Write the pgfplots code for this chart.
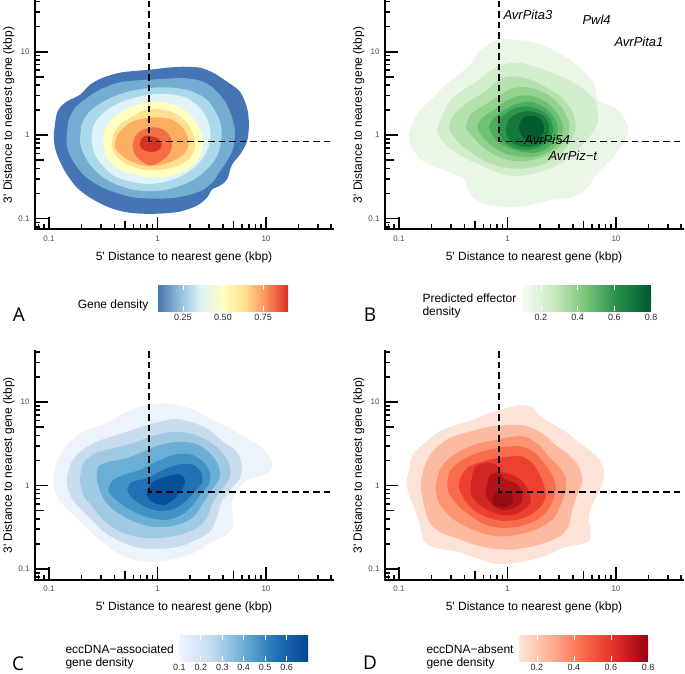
\documentclass[border=0pt]{standalone}
\usepackage{fontspec}
\setmainfont{Liberation Sans}
\newfontfamily\letterfont{Open Sans}
\usepackage{pgfplots}
\pgfplotsset{compat=1.18}

% contour fills, outermost level first
\definecolor{a1}{HTML}{4575B4}\definecolor{a2}{HTML}{74ADD1}\definecolor{a3}{HTML}{ABD9E9}
\definecolor{a4}{HTML}{E0F3F8}\definecolor{a5}{HTML}{FFFFBF}\definecolor{a6}{HTML}{FEE090}
\definecolor{a7}{HTML}{FDAE61}\definecolor{a8}{HTML}{F46D43}\definecolor{a9}{HTML}{D73027}
\definecolor{b1}{HTML}{EAF6E6}\definecolor{b2}{HTML}{D2EDCC}\definecolor{b3}{HTML}{B5E1AE}
\definecolor{b4}{HTML}{94D18E}\definecolor{b5}{HTML}{6FC173}\definecolor{b6}{HTML}{4BAD5F}
\definecolor{b7}{HTML}{2E954D}\definecolor{b8}{HTML}{15793C}\definecolor{b9}{HTML}{005C30}
\definecolor{c1}{HTML}{EDF3FB}\definecolor{c2}{HTML}{C9DCEF}\definecolor{c3}{HTML}{9FCAE1}
\definecolor{c4}{HTML}{6BAED6}\definecolor{c5}{HTML}{4292C6}\definecolor{c6}{HTML}{2171B5}
\definecolor{c7}{HTML}{08509C}
\definecolor{d1}{HTML}{FDE3D7}\definecolor{d2}{HTML}{FCBBA1}\definecolor{d3}{HTML}{FC9474}
\definecolor{d4}{HTML}{F96C4B}\definecolor{d5}{HTML}{EE4030}\definecolor{d6}{HTML}{D12622}
\definecolor{d7}{HTML}{B3141A}\definecolor{d8}{HTML}{970C12}

% colour bar gradients (25bp..75bp is the visible part)
\definecolor{ka1}{RGB}{69,117,180}\definecolor{ka2}{RGB}{145,191,219}\definecolor{ka3}{RGB}{224,243,248}
\definecolor{ka4}{RGB}{255,255,191}\definecolor{ka5}{RGB}{254,224,144}\definecolor{ka6}{RGB}{252,141,89}
\definecolor{ka7}{RGB}{215,48,39}
\definecolor{kb1}{RGB}{247,252,245}\definecolor{kb2}{RGB}{199,233,192}\definecolor{kb3}{RGB}{116,196,118}
\definecolor{kb4}{RGB}{35,139,69}\definecolor{kb5}{RGB}{0,90,50}
\definecolor{kc1}{RGB}{239,243,255}\definecolor{kc2}{RGB}{198,219,239}\definecolor{kc3}{RGB}{107,174,214}
\definecolor{kc4}{RGB}{33,113,181}\definecolor{kc5}{RGB}{8,69,148}
\definecolor{kd1}{RGB}{254,229,217}\definecolor{kd2}{RGB}{252,174,145}\definecolor{kd3}{RGB}{251,106,74}
\definecolor{kd4}{RGB}{222,45,38}\definecolor{kd5}{RGB}{153,0,13}
\pgfdeclarehorizontalshading{cbA}{100bp}{color(0bp)=(ka1); color(25bp)=(ka1); color(33.333bp)=(ka2); color(41.667bp)=(ka3); color(50bp)=(ka4); color(58.333bp)=(ka5); color(66.667bp)=(ka6); color(75bp)=(ka7); color(100bp)=(ka7)}
\pgfdeclarehorizontalshading{cbB}{100bp}{color(0bp)=(kb1); color(25bp)=(kb1); color(37.5bp)=(kb2); color(50bp)=(kb3); color(62.5bp)=(kb4); color(75bp)=(kb5); color(100bp)=(kb5)}
\pgfdeclarehorizontalshading{cbC}{100bp}{color(0bp)=(kc1); color(25bp)=(kc1); color(37.5bp)=(kc2); color(50bp)=(kc3); color(62.5bp)=(kc4); color(75bp)=(kc5); color(100bp)=(kc5)}
\pgfdeclarehorizontalshading{cbD}{100bp}{color(0bp)=(kd1); color(25bp)=(kd1); color(37.5bp)=(kd2); color(50bp)=(kd3); color(62.5bp)=(kd4); color(75bp)=(kd5); color(100bp)=(kd5)}

% log ticks inside the axis (as annotation_logticks), and the two axis lines
\tikzset{tk/.style={black, line width=1.6pt}}
\newcommand{\logframe}{%
  \draw[black, line width=2.2pt, line cap=rect] (axis cs:-1.129,1.61) -- (axis cs:-1.129,-1.128) -- (axis cs:1.618,-1.128);
  \pgfplotsinvokeforeach{-1,0,1}{%
    \draw[tk] (axis cs:##1,-1.128) -- ++(0pt,12.5pt);
    \draw[tk] (axis cs:-1.129,##1) -- ++(12.5pt,0pt);}
  \pgfplotsinvokeforeach{-0.301,0.699}{%
    \draw[tk] (axis cs:##1,-1.128) -- ++(0pt,8.5pt);
    \draw[tk] (axis cs:-1.129,##1) -- ++(8.5pt,0pt);}
  \pgfplotsinvokeforeach{-1.097,-1.046,-0.699,-0.523,-0.398,-0.222,-0.155,-0.097,-0.046,0.301,0.477,0.602,0.778,0.845,0.903,0.954,1.301,1.477,1.602}{%
    \draw[tk] (axis cs:##1,-1.128) -- ++(0pt,5pt);
    \draw[tk] (axis cs:-1.129,##1) -- ++(5pt,0pt);}
}

\pgfplotsset{
  dens/.style={
    scale only axis, width=298pt, height=228.5pt, anchor=south west,
    xmin=-1.129, xmax=1.618, ymin=-1.128, ymax=1.61,
    axis x line*=bottom, axis y line*=left, clip=false,
    x axis line style={draw=none}, y axis line style={draw=none},
    xtick pos=left, ytick pos=left, tick align=inside,
    major tick length=0pt, minor tick length=0pt,
    xtick={-1,0,1}, xticklabels={0.1,1,10},
    ytick={-1,0,1}, yticklabels={0.1,1,10},
    ticklabel style={font=\fontsize{8}{9}\selectfont, text=black!70},
    xticklabel style={yshift=-3pt}, yticklabel style={xshift=-2pt},
    xlabel={5\textquotesingle{} Distance to nearest gene (kbp)},
    ylabel={3\textquotesingle{} Distance to nearest gene (kbp)},
    label style={font=\fontsize{12}{14}\selectfont},
    xlabel shift=3pt, ylabel shift=-3pt,
  },
  cbar/.style={
    scale only axis, width=129pt, height=26pt, anchor=north west,
    ymin=0, ymax=1, axis line style={draw=none}, ytick=\empty,
    tick align=inside, xtick pos=both, xticklabel pos=lower,
    major tick length=5pt, xtick style={white, line width=0.8pt},
    axis on top, clip=false,
    xticklabel style={font=\fontsize{9}{10}\selectfont, text=black!85},
  },
  lv/.style={draw=none, fill=#1, smooth},
  dashln/.style={black, line width=1.6pt, dash pattern=on 6.5pt off 4pt},
}

\begin{document}
\begin{tikzpicture}
\path[use as bounding box] (0pt,0pt) rectangle (685pt,-674pt);

% ---------- A ----------
\begin{axis}[dens, at={(35pt,-229.3pt)}]
\addplot[lv=a1] coordinates {(-0.954,0.030)(-0.926,0.269)(-0.853,0.389)(-0.714,0.485)(-0.622,0.605)(-0.502,0.689)(-0.346,0.749)(-0.189,0.772)(-0.069,0.784)(0.088,0.808)(0.235,0.820)(0.392,0.808)(0.512,0.749)(0.641,0.641)(0.760,0.521)(0.825,0.329)(0.843,0.126)(0.825,-0.078)(0.760,-0.234)(0.687,-0.353)(0.641,-0.533)(0.576,-0.605)(0.502,-0.653)(0.456,-0.749)(0.364,-0.844)(0.207,-0.916)(0.023,-0.940)(-0.161,-0.940)(-0.318,-0.916)(-0.465,-0.856)(-0.622,-0.749)(-0.742,-0.629)(-0.834,-0.473)(-0.899,-0.317)(-0.945,-0.150)(-0.954,0.030)(-0.926,0.269)};
\addplot[lv=a2] coordinates {(-0.837,-0.074)(-0.822,0.165)(-0.760,0.326)(-0.653,0.445)(-0.530,0.545)(-0.376,0.625)(-0.223,0.653)(-0.069,0.665)(0.085,0.677)(0.238,0.685)(0.392,0.653)(0.514,0.565)(0.622,0.405)(0.684,0.225)(0.714,0.046)(0.699,-0.154)(0.638,-0.314)(0.576,-0.433)(0.514,-0.553)(0.422,-0.653)(0.300,-0.713)(0.146,-0.752)(-0.039,-0.760)(-0.223,-0.745)(-0.376,-0.692)(-0.530,-0.613)(-0.684,-0.473)(-0.776,-0.314)(-0.822,-0.194)(-0.837,-0.074)(-0.822,0.165)};
\addplot[lv=a3] coordinates {(-0.714,-0.074)(-0.699,0.126)(-0.638,0.266)(-0.546,0.365)(-0.422,0.453)(-0.284,0.517)(-0.131,0.557)(0.023,0.573)(0.177,0.565)(0.315,0.525)(0.438,0.445)(0.514,0.326)(0.576,0.165)(0.592,0.006)(0.576,-0.154)(0.530,-0.293)(0.453,-0.413)(0.361,-0.513)(0.238,-0.593)(0.085,-0.653)(-0.069,-0.673)(-0.223,-0.653)(-0.376,-0.593)(-0.514,-0.493)(-0.622,-0.353)(-0.684,-0.213)(-0.714,-0.074)(-0.699,0.126)};
\addplot[lv=a4] coordinates {(-0.607,-0.074)(-0.592,0.105)(-0.530,0.225)(-0.438,0.326)(-0.315,0.405)(-0.161,0.465)(-0.007,0.493)(0.146,0.485)(0.269,0.445)(0.376,0.345)(0.453,0.206)(0.490,0.026)(0.468,-0.154)(0.407,-0.293)(0.315,-0.413)(0.192,-0.505)(0.053,-0.565)(-0.100,-0.585)(-0.253,-0.553)(-0.392,-0.493)(-0.500,-0.373)(-0.576,-0.234)(-0.607,-0.074)(-0.592,0.105)};
\addplot[lv=a5] coordinates {(-0.500,-0.094)(-0.484,0.066)(-0.422,0.186)(-0.330,0.285)(-0.207,0.357)(-0.069,0.397)(0.069,0.397)(0.192,0.345)(0.300,0.246)(0.376,0.105)(0.422,-0.054)(0.407,-0.213)(0.346,-0.333)(0.238,-0.433)(0.100,-0.493)(-0.053,-0.505)(-0.207,-0.473)(-0.346,-0.413)(-0.438,-0.314)(-0.484,-0.213)(-0.500,-0.094)(-0.484,0.066)};
\addplot[lv=a6] coordinates {(-0.422,-0.134)(-0.407,0.006)(-0.346,0.126)(-0.253,0.206)(-0.146,0.285)(-0.023,0.313)(0.100,0.293)(0.207,0.225)(0.284,0.126)(0.336,-0.014)(0.346,-0.154)(0.300,-0.273)(0.207,-0.353)(0.085,-0.405)(-0.053,-0.421)(-0.192,-0.393)(-0.300,-0.333)(-0.376,-0.254)(-0.422,-0.134)(-0.407,0.006)};
\addplot[lv=a7] coordinates {(-0.392,-0.154)(-0.376,-0.014)(-0.315,0.086)(-0.223,0.165)(-0.100,0.206)(0.023,0.213)(0.131,0.186)(0.223,0.105)(0.275,-0.014)(0.284,-0.134)(0.238,-0.234)(0.146,-0.305)(0.039,-0.353)(-0.085,-0.373)(-0.207,-0.333)(-0.300,-0.273)(-0.392,-0.154)(-0.376,-0.014)};
\addplot[lv=a8] coordinates {(-0.229,-0.134)(-0.207,-0.014)(-0.131,0.066)(-0.023,0.094)(0.069,0.054)(0.122,-0.034)(0.131,-0.154)(0.085,-0.254)(0.007,-0.333)(-0.069,-0.361)(-0.146,-0.314)(-0.207,-0.234)(-0.229,-0.134)(-0.207,-0.014)};
\addplot[lv=a9] coordinates {(-0.161,-0.094)(-0.146,-0.034)(-0.100,-0.006)(-0.039,-0.018)(0.017,-0.054)(0.039,-0.122)(0.007,-0.182)(-0.053,-0.202)(-0.115,-0.186)(-0.155,-0.146)(-0.161,-0.094)(-0.146,-0.034)};
\addplot[dashln] coordinates {(-0.076,1.61)(-0.076,-0.076)(1.618,-0.076)};
\logframe
\end{axis}

% ---------- B ----------
\begin{axis}[dens, at={(385pt,-229.3pt)}]
\addplot[lv=b1] coordinates {(-0.908,0.030)(-0.825,0.269)(-0.705,0.425)(-0.548,0.629)(-0.364,0.820)(-0.244,1.024)(-0.088,1.144)(0.060,1.144)(0.217,1.120)(0.336,1.072)(0.45,1.0)(0.613,0.868)(0.797,0.629)(0.834,0.425)(1.018,0.305)(1.111,0.102)(1.074,-0.090)(0.954,-0.293)(0.834,-0.449)(0.742,-0.617)(0.613,-0.737)(0.429,-0.772)(0.309,-0.808)(0.124,-0.856)(-0.060,-0.856)(-0.244,-0.808)(-0.355,-0.689)(-0.401,-0.533)(-0.521,-0.449)(-0.677,-0.377)(-0.797,-0.293)(-0.889,-0.138)(-0.908,0.030)(-0.825,0.269)};
\addplot[lv=b2] coordinates {(-0.643,0.106)(-0.521,0.425)(-0.306,0.625)(-0.090,0.824)(0.124,0.865)(0.370,0.764)(0.616,0.625)(0.800,0.425)(0.831,0.146)(0.708,-0.094)(0.585,-0.254)(0.431,-0.38)(0.247,-0.46)(0.063,-0.49)(-0.090,-0.45)(-0.244,-0.36)(-0.398,-0.27)(-0.551,-0.134)(-0.629,-0.014)(-0.643,0.106)(-0.521,0.425)};
\addplot[lv=b3] coordinates {(-0.539,0.086)(-0.493,0.246)(-0.355,0.405)(-0.201,0.525)(-0.078,0.665)(0.060,0.705)(0.214,0.665)(0.367,0.565)(0.505,0.445)(0.597,0.285)(0.629,0.106)(0.582,-0.074)(0.475,-0.234)(0.321,-0.353)(0.136,-0.40)(-0.048,-0.385)(-0.201,-0.314)(-0.324,-0.213)(-0.447,-0.094)(-0.539,0.086)(-0.493,0.246)};
\addplot[lv=b4] coordinates {(-0.385,0.106)(-0.339,0.246)(-0.232,0.345)(-0.109,0.445)(0.014,0.545)(0.136,0.577)(0.260,0.55)(0.39,0.47)(0.50,0.33)(0.565,0.165)(0.56,0.006)(0.48,-0.14)(0.35,-0.25)(0.18,-0.31)(0.014,-0.30)(-0.124,-0.234)(-0.232,-0.134)(-0.324,-0.014)(-0.385,0.106)(-0.339,0.246)};
\addplot[lv=b5] coordinates {(-0.278,0.106)(-0.232,0.206)(-0.124,0.305)(-0.017,0.41)(0.106,0.47)(0.229,0.47)(0.352,0.40)(0.45,0.28)(0.51,0.12)(0.49,-0.04)(0.41,-0.17)(0.28,-0.25)(0.13,-0.26)(-0.02,-0.22)(-0.14,-0.13)(-0.232,-0.02)(-0.278,0.106)(-0.232,0.206)};
\addplot[lv=b6] coordinates {(-0.171,0.086)(-0.124,0.206)(-0.032,0.30)(0.075,0.37)(0.198,0.40)(0.306,0.36)(0.40,0.26)(0.46,0.12)(0.45,-0.03)(0.37,-0.15)(0.26,-0.21)(0.14,-0.20)(0.03,-0.16)(-0.09,-0.08)(-0.171,0.086)(-0.124,0.206)};
\addplot[lv=b7] coordinates {(-0.09,0.07)(-0.06,0.20)(0.03,0.30)(0.15,0.345)(0.27,0.32)(0.37,0.24)(0.42,0.10)(0.40,-0.03)(0.32,-0.13)(0.20,-0.175)(0.08,-0.16)(-0.03,-0.08)(-0.09,0.07)(-0.06,0.20)};
\addplot[lv=b8] coordinates {(-0.017,0.066)(0.014,0.19)(0.106,0.27)(0.229,0.285)(0.33,0.23)(0.38,0.126)(0.37,-0.014)(0.30,-0.11)(0.198,-0.141)(0.075,-0.114)(0.007,-0.034)(-0.017,0.066)(0.014,0.19)};
\addplot[lv=b9] coordinates {(0.106,0.086)(0.131,0.194)(0.198,0.234)(0.275,0.218)(0.327,0.146)(0.336,0.046)(0.290,-0.034)(0.214,-0.062)(0.143,-0.022)(0.106,0.086)(0.131,0.194)};
\node[anchor=west, font=\fontsize{13}{14}\selectfont\itshape] at (axis cs:-0.069,1.443) {AvrPita3};
\node[anchor=west, font=\fontsize{13}{14}\selectfont\itshape] at (axis cs:0.659,1.383) {Pwl4};
\node[anchor=west, font=\fontsize{13}{14}\selectfont\itshape] at (axis cs:0.954,1.12) {AvrPita1};
\node[anchor=west, font=\fontsize{13}{14}\selectfont\itshape] at (axis cs:0.124,-0.054) {AvrPi54};
\node[anchor=west, font=\fontsize{13}{14}\selectfont\itshape] at (axis cs:0.346,-0.246) {AvrPiz−t};
\addplot[dashln] coordinates {(-0.076,1.61)(-0.076,-0.076)(1.618,-0.076)};
\logframe
\end{axis}

% ---------- C ----------
\begin{axis}[dens, at={(35pt,-579.7pt)}]
\addplot[lv=c1] coordinates {(-0.960,0.088)(-0.929,0.287)(-0.837,0.486)(-0.684,0.645)(-0.468,0.745)(-0.315,0.865)(-0.161,0.944)(0.053,0.984)(0.300,0.925)(0.484,0.805)(0.668,0.686)(0.822,0.566)(0.975,0.447)(1.053,0.287)(1.037,0.167)(0.945,0.108)(0.822,0.068)(0.730,-0.072)(0.684,-0.231)(0.699,-0.470)(0.638,-0.589)(0.514,-0.669)(0.361,-0.789)(0.207,-0.867)(-0.007,-0.908)(-0.161,-0.908)(-0.346,-0.828)(-0.500,-0.688)(-0.653,-0.509)(-0.776,-0.350)(-0.899,-0.191)(-0.945,-0.072)(-0.960,0.088)(-0.929,0.287)};
\addplot[lv=c2] coordinates {(-0.837,0.048)(-0.806,0.247)(-0.714,0.406)(-0.560,0.526)(-0.376,0.606)(-0.192,0.686)(-0.039,0.745)(0.146,0.797)(0.300,0.765)(0.453,0.686)(0.606,0.526)(0.730,0.406)(0.776,0.247)(0.760,0.088)(0.684,-0.031)(0.592,-0.191)(0.546,-0.389)(0.484,-0.550)(0.361,-0.649)(0.207,-0.729)(0.023,-0.757)(-0.161,-0.748)(-0.346,-0.669)(-0.500,-0.550)(-0.622,-0.389)(-0.745,-0.231)(-0.806,-0.111)(-0.837,0.048)(-0.806,0.247)};
\addplot[lv=c3] coordinates {(-0.714,0.088)(-0.684,0.267)(-0.576,0.387)(-0.407,0.447)(-0.223,0.507)(-0.069,0.585)(0.115,0.638)(0.300,0.626)(0.453,0.546)(0.576,0.427)(0.653,0.287)(0.668,0.108)(0.592,-0.051)(0.514,-0.191)(0.453,-0.389)(0.361,-0.509)(0.207,-0.589)(0.023,-0.628)(-0.161,-0.621)(-0.346,-0.550)(-0.484,-0.430)(-0.592,-0.270)(-0.684,-0.111)(-0.714,0.088)(-0.684,0.267)};
\addplot[lv=c4] coordinates {(-0.560,0.068)(-0.545,0.227)(-0.438,0.287)(-0.284,0.327)(-0.131,0.406)(0.023,0.486)(0.207,0.526)(0.361,0.495)(0.484,0.387)(0.560,0.247)(0.576,0.108)(0.514,-0.031)(0.438,-0.171)(0.361,-0.330)(0.269,-0.430)(0.115,-0.490)(-0.069,-0.490)(-0.253,-0.410)(-0.407,-0.290)(-0.500,-0.151)(-0.560,0.068)(-0.545,0.227)};
\addplot[lv=c5] coordinates {(-0.453,-0.072)(-0.422,0.048)(-0.315,0.128)(-0.161,0.188)(-0.007,0.287)(0.146,0.367)(0.300,0.375)(0.422,0.287)(0.484,0.148)(0.468,0.008)(0.392,-0.111)(0.315,-0.251)(0.223,-0.350)(0.085,-0.410)(-0.069,-0.389)(-0.223,-0.311)(-0.346,-0.210)(-0.453,-0.072)(-0.422,0.048)};
\addplot[lv=c6] coordinates {(-0.278,-0.051)(-0.238,0.041)(-0.100,0.088)(0.053,0.188)(0.207,0.256)(0.330,0.247)(0.407,0.148)(0.407,0.029)(0.330,-0.091)(0.238,-0.210)(0.131,-0.290)(-0.007,-0.302)(-0.146,-0.231)(-0.238,-0.143)(-0.278,-0.051)(-0.238,0.041)};
\addplot[lv=c7] coordinates {(-0.100,-0.072)(-0.039,0.048)(0.085,0.108)(0.207,0.136)(0.253,0.068)(0.232,-0.031)(0.161,-0.151)(0.069,-0.231)(-0.023,-0.210)(-0.085,-0.151)(-0.100,-0.072)(-0.039,0.048)};
\addplot[dashln] coordinates {(-0.076,1.61)(-0.076,-0.076)(1.618,-0.076)};
\logframe
\end{axis}

% ---------- D ----------
\begin{axis}[dens, at={(385pt,-579.7pt)}]
\addplot[lv=d1] coordinates {(-0.908,0.167)(-0.877,0.367)(-0.785,0.486)(-0.631,0.645)(-0.477,0.725)(-0.324,0.785)(-0.171,0.865)(-0.017,0.925)(0.106,0.964)(0.229,0.944)(0.290,0.845)(0.382,0.765)(0.536,0.645)(0.689,0.486)(0.813,0.367)(0.874,0.247)(0.889,0.088)(0.843,-0.072)(0.782,-0.231)(0.751,-0.389)(0.767,-0.550)(0.751,-0.669)(0.659,-0.708)(0.505,-0.748)(0.382,-0.828)(0.229,-0.888)(0.076,-0.927)(-0.109,-0.939)(-0.293,-0.867)(-0.477,-0.789)(-0.662,-0.748)(-0.770,-0.669)(-0.800,-0.509)(-0.846,-0.311)(-0.908,-0.111)(-0.933,0.048)(-0.908,0.167)(-0.877,0.367)};
\addplot[lv=d2] coordinates {(-0.800,0.008)(-0.770,0.208)(-0.693,0.406)(-0.539,0.566)(-0.355,0.645)(-0.171,0.705)(0.014,0.725)(0.168,0.717)(0.321,0.626)(0.444,0.486)(0.567,0.367)(0.659,0.227)(0.689,0.048)(0.643,-0.111)(0.597,-0.290)(0.567,-0.470)(0.505,-0.589)(0.382,-0.669)(0.229,-0.729)(0.044,-0.768)(-0.140,-0.756)(-0.324,-0.700)(-0.477,-0.628)(-0.631,-0.550)(-0.724,-0.430)(-0.770,-0.231)(-0.800,0.008)(-0.770,0.208)};
\addplot[lv=d3] coordinates {(-0.662,-0.012)(-0.631,0.167)(-0.555,0.307)(-0.417,0.427)(-0.263,0.507)(-0.109,0.546)(0.044,0.585)(0.168,0.585)(0.290,0.486)(0.382,0.347)(0.475,0.227)(0.536,0.088)(0.536,-0.072)(0.490,-0.231)(0.429,-0.389)(0.321,-0.490)(0.168,-0.569)(-0.017,-0.609)(-0.186,-0.589)(-0.355,-0.509)(-0.493,-0.410)(-0.601,-0.270)(-0.647,-0.151)(-0.662,-0.012)(-0.631,0.167)};
\addplot[lv=d4] coordinates {(-0.555,-0.012)(-0.539,0.148)(-0.463,0.267)(-0.324,0.367)(-0.171,0.427)(-0.017,0.466)(0.136,0.466)(0.260,0.387)(0.336,0.267)(0.413,0.128)(0.444,-0.031)(0.413,-0.191)(0.352,-0.330)(0.244,-0.430)(0.106,-0.490)(-0.048,-0.509)(-0.201,-0.470)(-0.309,-0.389)(-0.431,-0.270)(-0.523,-0.131)(-0.555,-0.012)(-0.539,0.148)};
\addplot[lv=d5] coordinates {(-0.447,-0.031)(-0.431,0.108)(-0.355,0.227)(-0.232,0.287)(-0.109,0.327)(0.014,0.347)(0.136,0.347)(0.229,0.267)(0.290,0.148)(0.336,0.008)(0.352,-0.131)(0.306,-0.251)(0.214,-0.350)(0.090,-0.410)(-0.048,-0.422)(-0.186,-0.382)(-0.293,-0.311)(-0.385,-0.191)(-0.447,-0.031)(-0.431,0.108)};
\addplot[lv=d6] coordinates {(-0.339,-0.091)(-0.330,0.088)(-0.293,0.23)(-0.201,0.27)(-0.109,0.255)(-0.063,0.167)(0.029,0.136)(0.122,0.068)(0.192,-0.051)(0.214,-0.191)(0.152,-0.290)(0.044,-0.350)(-0.063,-0.350)(-0.186,-0.290)(-0.288,-0.198)(-0.339,-0.091)(-0.330,0.088)};
\addplot[lv=d7] coordinates {(-0.201,-0.111)(-0.186,0.029)(-0.155,0.128)(-0.078,0.148)(-0.017,0.068)(0.076,0.029)(0.136,-0.072)(0.131,-0.191)(0.060,-0.270)(-0.048,-0.290)(-0.140,-0.231)(-0.201,-0.111)(-0.186,0.029)};
\addplot[lv=d8] coordinates {(-0.140,-0.151)(-0.109,-0.079)(-0.032,-0.063)(0.039,-0.103)(0.051,-0.191)(-0.002,-0.25)(-0.078,-0.258)(-0.131,-0.222)(-0.140,-0.151)(-0.109,-0.079)};
\addplot[dashln] coordinates {(-0.076,1.61)(-0.076,-0.076)(1.618,-0.076)};
\logframe
\end{axis}

% ---------- colour bars ----------
\begin{axis}[cbar, at={(158pt,-285pt)}, width=130pt, xmin=0.094, xmax=0.906,
  xtick={0.25,0.5,0.75}, xticklabels={0.25,0.50,0.75}]
\shade[shading=cbA] (rel axis cs:0,0) rectangle (rel axis cs:1,1);
\end{axis}
\begin{axis}[cbar, at={(522pt,-285pt)}, xmin=0.097, xmax=0.80,
  xtick={0.2,0.4,0.6,0.8}, xticklabels={0.2,0.4,0.6,0.8}]
\shade[shading=cbB] (rel axis cs:0,0) rectangle (rel axis cs:1,1);
\end{axis}
\begin{axis}[cbar, at={(179pt,-635pt)}, xmin=0.098, xmax=0.70,
  xtick={0.1,0.2,0.3,0.4,0.5,0.6}, xticklabels={0.1,0.2,0.3,0.4,0.5,0.6}]
\shade[shading=cbC] (rel axis cs:0,0) rectangle (rel axis cs:1,1);
\end{axis}
\begin{axis}[cbar, at={(519pt,-635pt)}, xmin=0.103, xmax=0.80,
  xtick={0.2,0.4,0.6,0.8}, xticklabels={0.2,0.4,0.6,0.8}]
\shade[shading=cbD] (rel axis cs:0,0) rectangle (rel axis cs:1,1);
\end{axis}

% legend titles and panel letters
\node[anchor=east, font=\fontsize{12}{13}\selectfont] at (152pt,-305pt) {Gene density};
\node[anchor=west, align=left, font=\fontsize{12}{13}\selectfont] at (419pt,-305.5pt) {Predicted effector\\density};
\node[anchor=west, align=left, font=\fontsize{12}{13}\selectfont] at (62pt,-656.7pt) {eccDNA−associated\\gene density};
\node[anchor=west, align=left, font=\fontsize{12}{13}\selectfont] at (423pt,-656.7pt) {eccDNA−absent\\gene density};
\node[font=\letterfont\fontsize{19}{20}\selectfont] at (19pt,-315pt) {A};
\node[font=\letterfont\fontsize{19}{20}\selectfont] at (370pt,-315pt) {B};
\node[font=\letterfont\fontsize{19}{20}\selectfont] at (18pt,-664pt) {C};
\node[font=\letterfont\fontsize{19}{20}\selectfont] at (370pt,-663pt) {D};
\end{tikzpicture}
\end{document}
